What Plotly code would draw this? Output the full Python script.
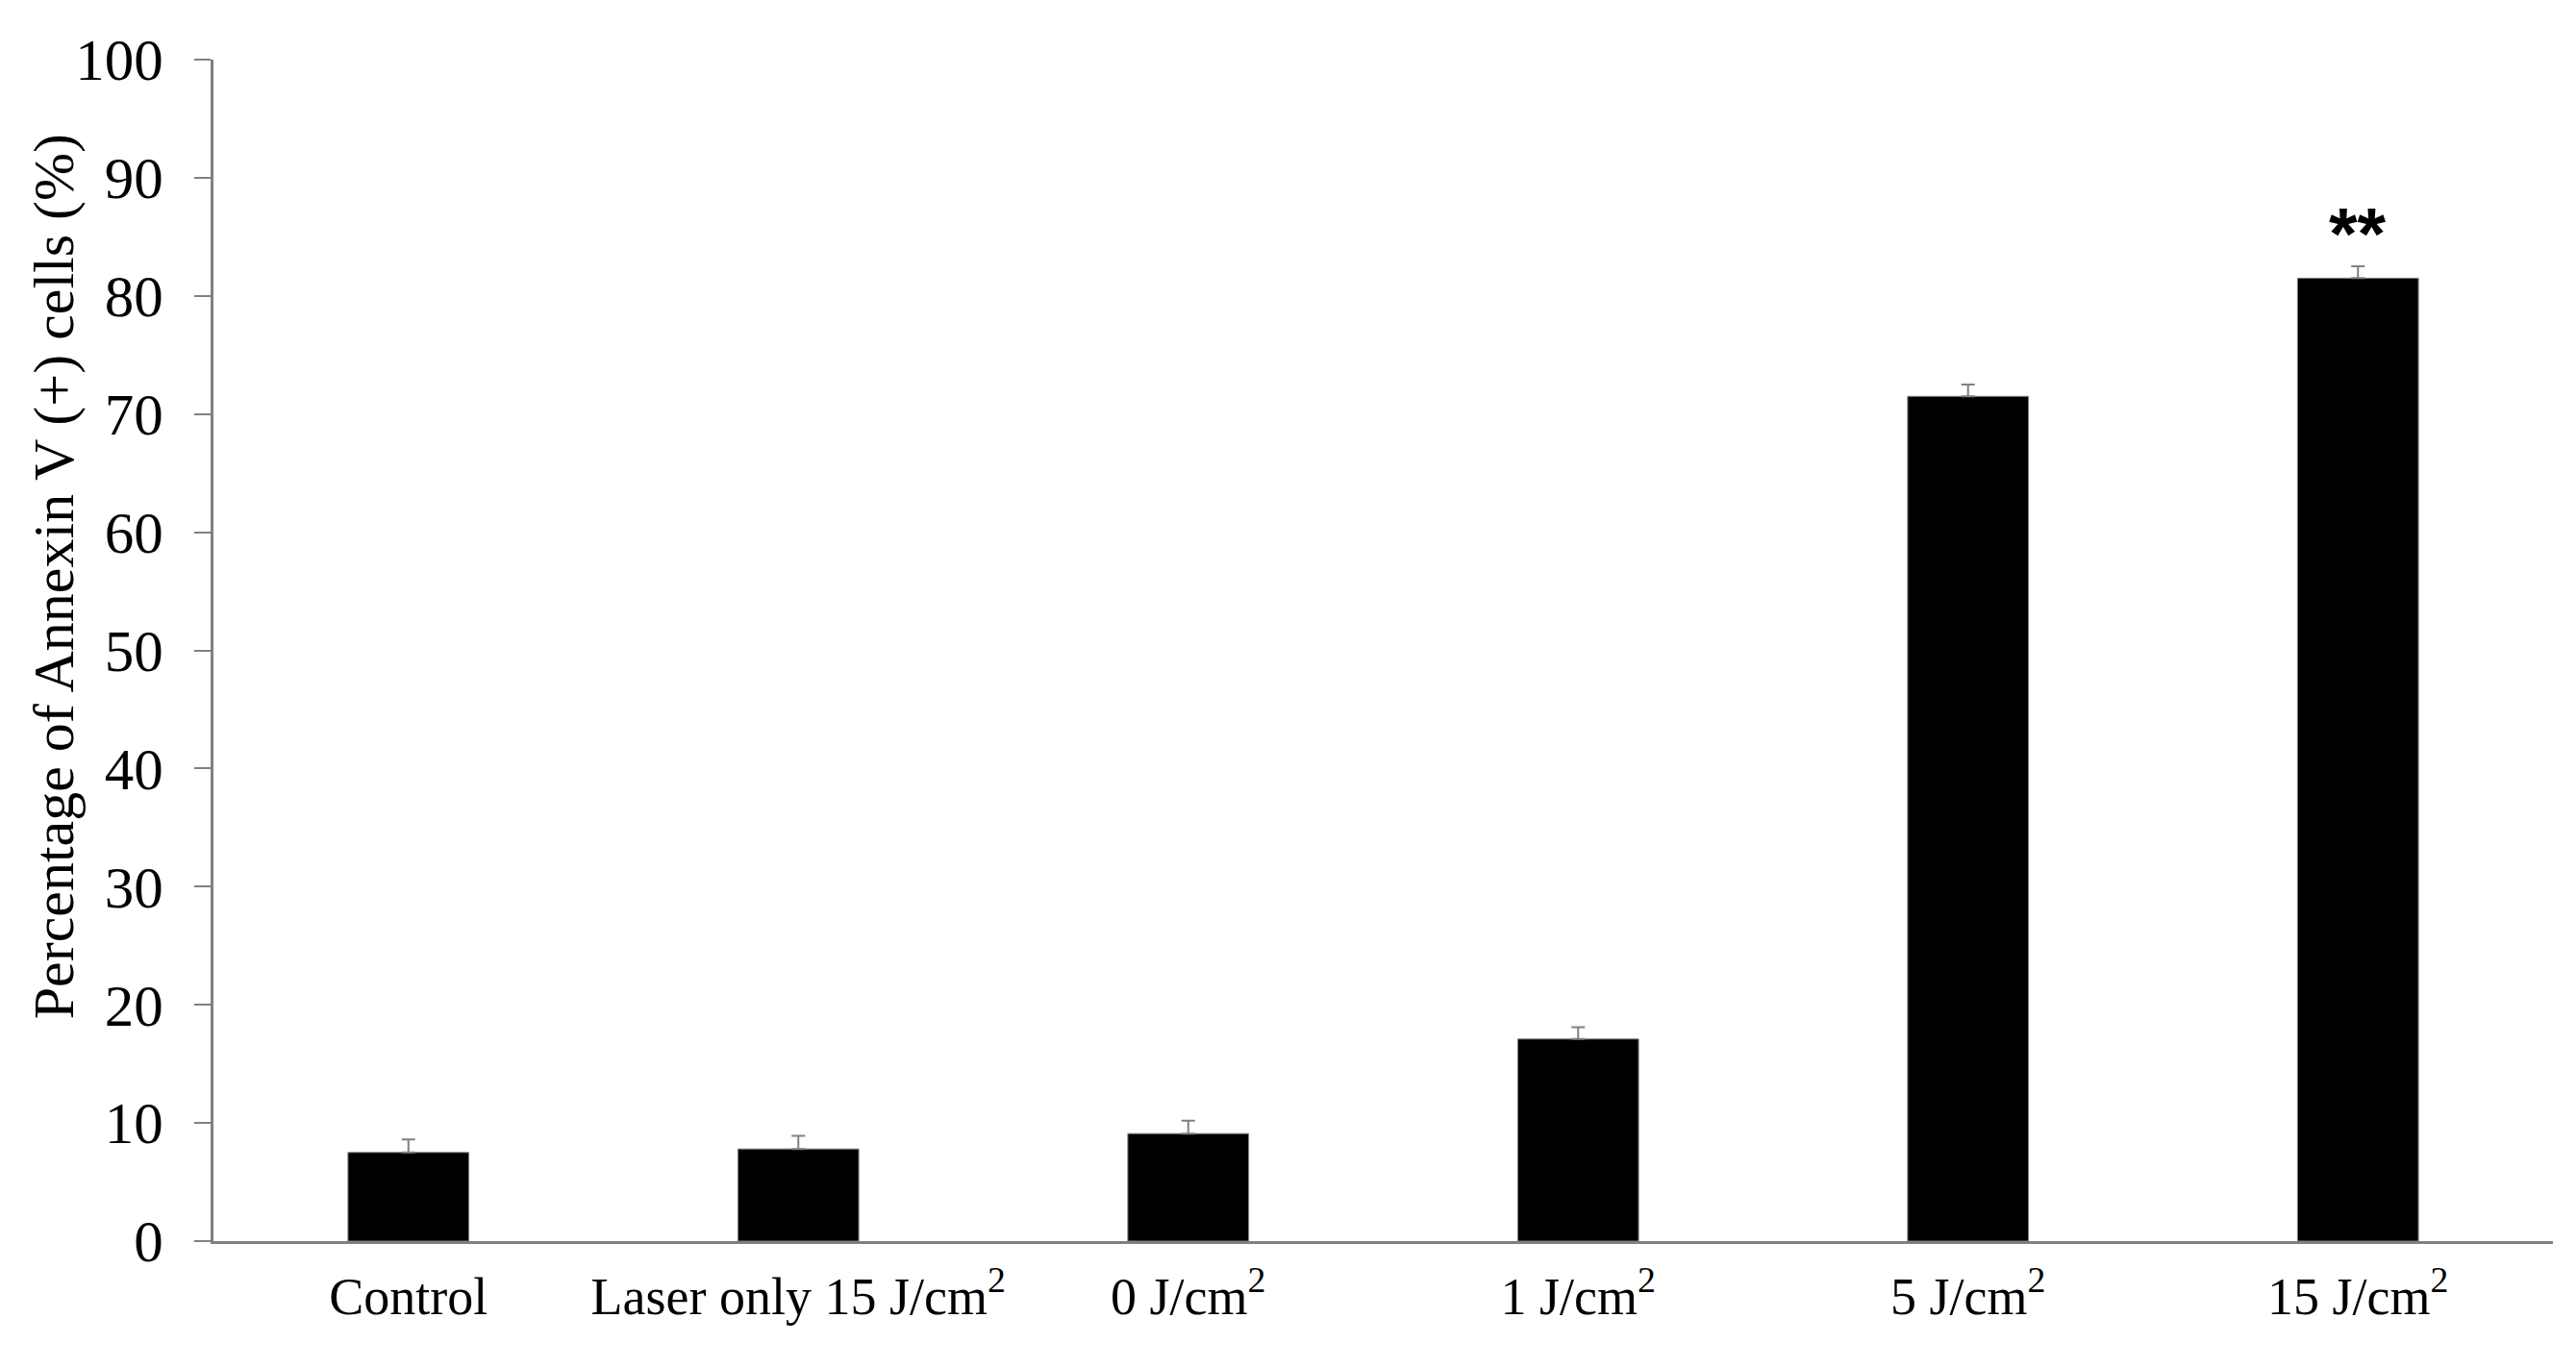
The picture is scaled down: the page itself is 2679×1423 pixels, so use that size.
import plotly.graph_objects as go

# Valores
categorias = ["Control", "Laser only 15 J/cm<sup>2</sup>", "0 J/cm<sup>2</sup>",
              "1 J/cm<sup>2</sup>", "5 J/cm<sup>2</sup>", "15 J/cm<sup>2</sup>"]
percentual = [7.5, 7.8, 9.1, 17.1, 71.5, 81.5]
erro = [1.1, 1.1, 1.1, 1.0, 1.0, 1.0]
yticks = [0, 10, 20, 30, 40, 50, 60, 70, 80, 90, 100]

FONTE = "Liberation Serif, Times New Roman, serif"
CINZA = "#808080"

fig = go.Figure()
fig.add_trace(go.Bar(
    x=categorias,
    y=percentual,
    marker=dict(color="black", line=dict(color=CINZA, width=1)),
    error_y=dict(type="data", array=erro, symmetric=False, arrayminus=[0] * len(erro),
                 color=CINZA, thickness=2, width=7),
))

# significância
fig.add_annotation(x=categorias[-1], y=percentual[-1] + erro[-1] + 2.8,
                   text="<b>**</b>", showarrow=False,
                   font=dict(family="Liberation Sans, Arial", size=76, color="black"))

# título do eixo y
fig.add_annotation(text="Percentage of Annexin V (+) cells (%)",
                   xref="paper", yref="paper", x=0, y=0.562, xshift=-166,
                   xanchor="center", yanchor="middle",
                   textangle=-90, showarrow=False,
                   font=dict(family=FONTE, size=60, color="black"))

fig.update_layout(
    width=2679, height=1423,
    margin=dict(l=214, r=32, t=54, b=140, autoexpand=False),
    plot_bgcolor="white", paper_bgcolor="white",
    showlegend=False,
    bargap=0.69,
    font=dict(family=FONTE, color="black"),
)
fig.update_xaxes(showline=True, linecolor=CINZA, linewidth=3, showgrid=False,
                 ticks="", tickfont=dict(size=54), ticklabelstandoff=8,
                 automargin=False)
fig.update_yaxes(range=[0, 100], tickvals=yticks, showline=True, linecolor=CINZA,
                 linewidth=3, showgrid=False, zeroline=False, ticks="outside",
                 ticklen=17, tickcolor=CINZA, tickwidth=2,
                 tickfont=dict(size=61), ticklabelstandoff=20, automargin=False)

fig.write_html("out.html")
